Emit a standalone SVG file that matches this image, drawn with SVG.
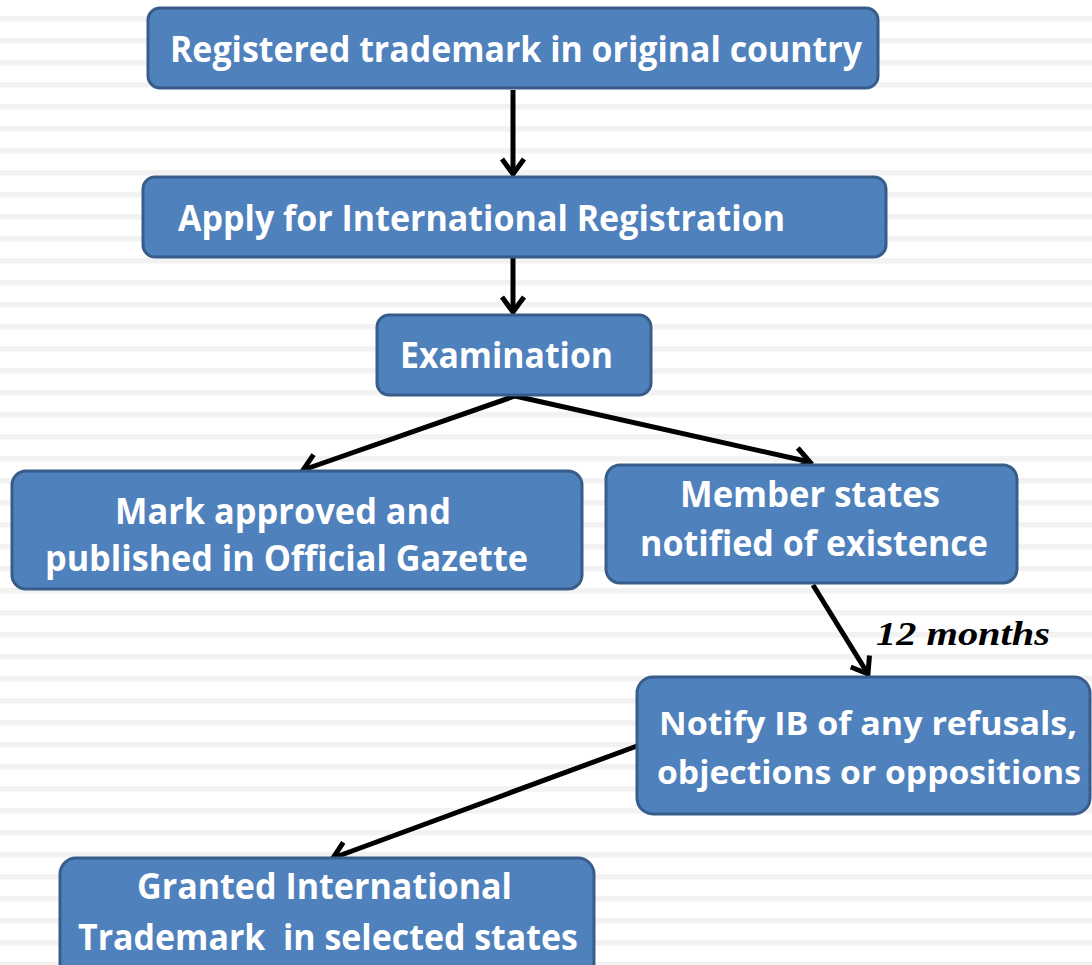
<svg xmlns="http://www.w3.org/2000/svg" width="1092" height="965" viewBox="0 0 1092 965">
<style>
.box{fill:#4f81bd;stroke:#385d8a;stroke-width:3}
.t{font-family:"Open Sans","Liberation Sans",sans-serif;font-weight:bold;font-size:36px;fill:#ffffff}
.s{font-size:33px}
.c{stroke:#000;stroke-width:5;fill:none;marker-end:url(#ah)}
.lbl{font-family:"Liberation Serif","DejaVu Serif",serif;font-weight:bold;font-style:italic;font-size:34px;fill:#000}
</style>
<defs>
<pattern id="stripes" patternUnits="userSpaceOnUse" x="0" y="0" width="1092" height="22">
<rect x="0" y="16" width="1092" height="5.5" fill="#f2f2f2"/>
</pattern>
<marker id="ah" markerUnits="userSpaceOnUse" viewBox="-20 -14 24 28" refX="0" refY="0" markerWidth="24" markerHeight="28" orient="auto">
<path d="M-15,-11 L0,0 L-15,11" fill="none" stroke="#000" stroke-width="5" stroke-linejoin="miter"/>
</marker>
</defs>
<rect width="1092" height="965" fill="#ffffff"/>
<rect width="1092" height="965" fill="url(#stripes)"/>
<g id="connectors">
<line class="c" x1="513" y1="90" x2="513" y2="174"/>
<line class="c" x1="513" y1="258" x2="513" y2="312"/>
<line class="c" x1="515" y1="396" x2="303" y2="470"/>
<line class="c" x1="515" y1="396" x2="810" y2="462"/>
<line class="c" x1="813" y1="585" x2="868" y2="674"/>
<line class="c" x1="637" y1="746" x2="333" y2="858"/>
<text class="lbl" x="876" y="645" textLength="174" lengthAdjust="spacingAndGlyphs">12 months</text>
</g>
<g id="n1">
<rect class="box" x="148" y="8" width="730" height="80" rx="12"/>
<text class="t" x="170" y="62" textLength="692" lengthAdjust="spacingAndGlyphs">Registered trademark in original country</text>
</g>
<g id="n2">
<rect class="box" x="143" y="177" width="743" height="80" rx="12"/>
<text class="t" x="178" y="231" textLength="607" lengthAdjust="spacingAndGlyphs">Apply for International Registration</text>
</g>
<g id="n3">
<rect class="box" x="377" y="315" width="274" height="80" rx="12"/>
<text class="t" x="400" y="368" textLength="213" lengthAdjust="spacingAndGlyphs">Examination</text>
</g>
<g id="n4">
<rect class="box" x="12" y="471" width="570" height="118" rx="14"/>
<text class="t" x="115" y="524" textLength="336" lengthAdjust="spacingAndGlyphs">Mark approved and</text>
<text class="t" x="45" y="571" textLength="483" lengthAdjust="spacingAndGlyphs">published in Official Gazette</text>
</g>
<g id="n5">
<rect class="box" x="606" y="465" width="411" height="118" rx="14"/>
<text class="t" x="680" y="507" textLength="260" lengthAdjust="spacingAndGlyphs">Member states</text>
<text class="t" x="640" y="556" textLength="348" lengthAdjust="spacingAndGlyphs">notified of existence</text>
</g>
<g id="n6">
<rect class="box" x="637" y="677" width="453" height="137" rx="16"/>
<text class="t s" x="659" y="735" textLength="418" lengthAdjust="spacingAndGlyphs">Notify IB of any refusals,</text>
<text class="t s" x="657" y="784" textLength="424" lengthAdjust="spacingAndGlyphs">objections or oppositions</text>
</g>
<g id="n7">
<rect class="box" x="60" y="858" width="534" height="120" rx="16"/>
<text class="t" x="137" y="899" textLength="375" lengthAdjust="spacingAndGlyphs">Granted International</text>
<text class="t" x="78" y="950" textLength="500" lengthAdjust="spacingAndGlyphs" xml:space="preserve">Trademark  in selected states</text>
</g>
</svg>
